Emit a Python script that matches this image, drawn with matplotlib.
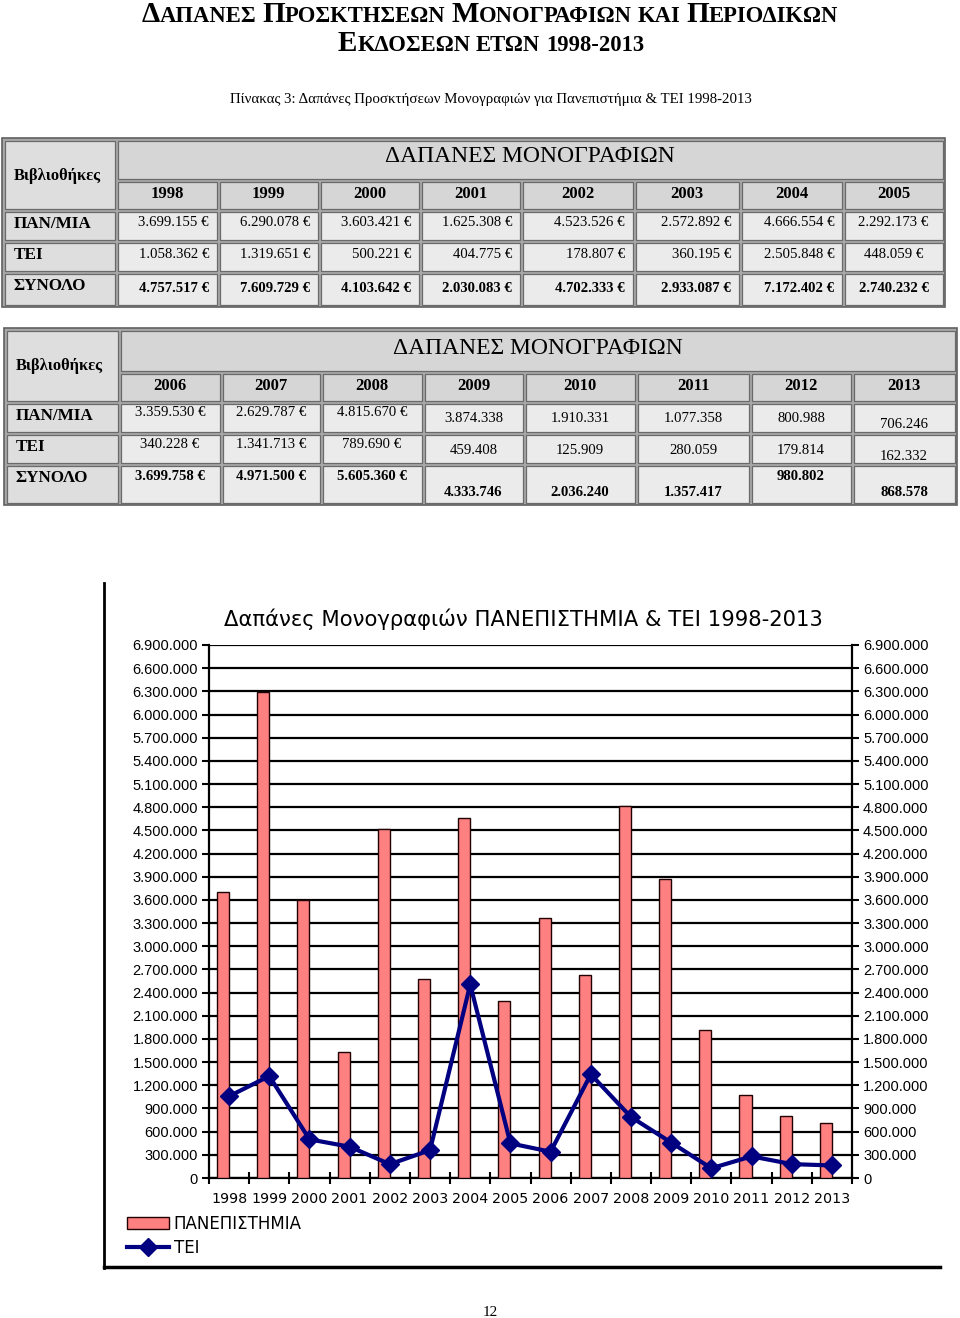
import matplotlib
matplotlib.use('Agg')
import matplotlib.pyplot as plt
from matplotlib.patches import Rectangle
from matplotlib.lines import Line2D
from matplotlib.ticker import FuncFormatter
import numpy as np

# ---------------- data ----------------
years = [1998, 1999, 2000, 2001, 2002, 2003, 2004, 2005,
         2006, 2007, 2008, 2009, 2010, 2011, 2012, 2013]
pan = [3699155, 6290078, 3603421, 1625308, 4523526, 2572892, 4666554, 2292173,
       3359530, 2629787, 4815670, 3874338, 1910331, 1077358, 800988, 706246]
tei = [1058362, 1319651, 500221, 404775, 178807, 360195, 2505848, 448059,
       340228, 1341713, 789690, 459408, 125909, 280059, 179814, 162332]
totals = [4757517, 7609729, 4103642, 2030083, 4702333, 2933087, 7172402, 2740232,
          3699758, 4971500, 5605360, 4333746, 2036240, 1357417, 980802, 868578]
row_labels = ['ΠΑΝ/ΜΙΑ', 'ΤΕΙ', 'ΣΥΝΟΛΟ']
corner_label = 'Βιβλιοθήκες'
table_header = 'ΔΑΠΑΝΕΣ ΜΟΝΟΓΡΑΦΙΩΝ'
series_names = ['ΠΑΝΕΠΙΣΤΗΜΙΑ', 'ΤΕΙ']
chart_title = 'Δαπάνες Μονογραφιών ΠΑΝΕΠΙΣΤΗΜΙΑ & ΤΕΙ 1998-2013'
subtitle = 'Πίνακας 3: Δαπάνες Προσκτήσεων Μονογραφιών για Πανεπιστήμια & ΤΕΙ 1998-2013'
euro_until = 2008

SERIF = 'Liberation Serif'
SANS = 'Liberation Sans'
WIDE = 'DejaVu Sans'


def fmt(v):
    return f"{v:,}".replace(',', '.')


W, H = 960, 1318
fig = plt.figure(figsize=(W / 100, H / 100), dpi=100)
page = fig.add_axes([0, 0, 1, 1])
page.set_xlim(0, W)
page.set_ylim(H, 0)
page.axis('off')
renderer = fig.canvas.get_renderer()

# ---------------- title (small caps) ----------------
BIG, SMALL = 21, 16.3


def smallcaps_line(words, xc, yb):
    items = []
    for wi, word in enumerate(words):
        for s, big in word:
            t = page.text(0, yb, s, fontsize=BIG if big else SMALL, fontweight='bold',
                          family=SERIF, va='baseline', ha='left')
            w = t.get_window_extent(renderer).width
            items.append((t, w))
        if wi < len(words) - 1:
            items.append((None, SMALL * 100 / 72 * 0.25))
    total = sum(w for _, w in items)
    x = xc - total / 2
    for t, w in items:
        if t is not None:
            t.set_x(x)
        x += w


def sc_word(word, first_big=True):
    if first_big:
        return [(word[0], True), (word[1:], False)]
    return [(word, False)]


line1 = [sc_word('ΔΑΠΑΝΕΣ'), sc_word('ΠΡΟΣΚΤΗΣΕΩΝ'), sc_word('ΜΟΝΟΓΡΑΦΙΩΝ'),
         sc_word('ΚΑΙ', False), sc_word('ΠΕΡΙΟΔΙΚΩΝ')]
line2 = [sc_word('ΕΚΔΟΣΕΩΝ'), sc_word('ΕΤΩΝ', False), sc_word('1998-2013', False)]
smallcaps_line(line1, 490, 22)
smallcaps_line(line2, 491, 51)

page.text(491, 99, subtitle, family=SERIF, fontsize=10.75, ha='center', va='center')

# ---------------- tables ----------------
HDR = '#d6d6d6'
DATA = '#ebebeb'
LAB = '#dedede'


def cell(x0, x1, y0, y1, face):
    page.add_patch(Rectangle((x0 + 1.5, y0 + 1.5), x1 - x0 - 3, y1 - y0 - 3,
                             facecolor=face, edgecolor='#6a6a6a', lw=0.9))


def draw_table(xe, ye, idx, text_mode):
    page.add_patch(Rectangle((xe[0] - 1, ye[0] - 1), xe[-1] - xe[0] + 2, ye[-1] - ye[0] + 2,
                             facecolor='#a8a8a8', edgecolor='#606060', lw=1.2))
    cell(xe[0], xe[1], ye[0], ye[2], LAB)
    page.text(xe[0] + 11, (ye[0] + ye[2]) / 2 + 1, corner_label, family=SERIF,
              fontweight='bold', fontsize=11.8, ha='left', va='center')
    cell(xe[1], xe[-1], ye[0], ye[1], HDR)
    page.text((xe[1] + xe[-1]) / 2, (ye[0] + ye[1]) / 2 - 2.5, table_header, family=SERIF,
              fontsize=17, ha='center', va='center')
    for r, lab in enumerate(row_labels):
        cell(xe[0], xe[1], ye[r + 2], ye[r + 3], LAB)
        page.text(xe[0] + 11, ye[r + 2] + 14, lab, family=SERIF, fontweight='bold',
                  fontsize=12.3, ha='left', va='center')
    for j, k in enumerate(idx):
        x0, x1 = xe[j + 1], xe[j + 2]
        cell(x0, x1, ye[1], ye[2], HDR)
        page.text((x0 + x1) / 2, (ye[1] + ye[2]) / 2 - 1, str(years[k]), family=SERIF,
                  fontweight='bold', fontsize=12, ha='center', va='center')
        vals = [pan[k], tei[k], totals[k]]
        for r in range(3):
            cell(x0, x1, ye[r + 2], ye[r + 3], DATA)
            s = fmt(vals[r]) + (' €' if years[k] <= euro_until else '')
            ha, xo, offs = text_mode(j, x0, x1)
            page.text(xo, ye[r + 2] + offs[r], s, family=SERIF, fontsize=10.6,
                      fontweight='bold' if r == 2 else 'normal', ha=ha, va='center')


def mode1(j, x0, x1):
    if j < 7:
        return 'right', x1 - 9, [12, 13, 16]
    return 'center', (x0 + x1) / 2, [12, 13, 16]


def mode2(j, x0, x1):
    c = (x0 + x1) / 2
    if j < 3:
        return 'center', c, [11, 12, 12]
    if j < 6:
        return 'center', c, [17, 17, 29]
    if j == 6:
        return 'center', c, [16, 17, 12]
    return 'center', c, [22, 23, 29]


draw_table([3, 116, 218, 319, 420, 521, 634, 740, 843, 944],
           [139, 180, 210, 241, 272, 306], range(0, 8), mode1)
draw_table([5, 119, 221, 321, 423, 524, 636, 750, 852, 956],
           [329, 372, 402, 433, 464, 504], range(8, 16), mode2)

# ---------------- chart frame ----------------
page.add_line(Line2D([104, 104], [583, 1268], color='black', lw=2))
page.add_line(Line2D([104, 940], [1267, 1267], color='black', lw=2.5))
page.text(523, 619, chart_title, family=WIDE, fontsize=15.2, ha='center', va='center')
page.text(490, 1312, '12', family=SERIF, fontsize=11, ha='center', va='center')

# ---------------- chart ----------------
L, R, T, B = 209, 852, 645, 1178
ax = fig.add_axes([L / W, (H - B) / H, (R - L) / W, (B - T) / H])
x = np.arange(len(years))
bars = ax.bar(x, pan, width=-0.3, align='edge', color='#FF8080', edgecolor='#200000',
              lw=1.0, zorder=3, label=series_names[0])
line, = ax.plot(x, tei, color='#000080', lw=3, marker='D', ms=9, zorder=4,
                label=series_names[1])
ymax = 6900000
yt = np.arange(0, ymax + 1, 300000)
yfmt = FuncFormatter(lambda v, p: fmt(int(v)))
ax.set_ylim(0, ymax)
ax.set_xlim(-0.5, len(years) - 0.5)
ax.set_yticks(yt)
ax.yaxis.set_major_formatter(yfmt)
ax.yaxis.grid(True, color='black', lw=1.6)
ax.set_axisbelow(True)
ax.set_xticks(np.arange(-0.5, len(years), 1))
ax.set_xticklabels([])
ax.set_xticks(x, minor=True)
ax.set_xticklabels([str(y) for y in years], minor=True)
ax.tick_params(axis='x', which='major', direction='inout', length=9, width=1.5)
ax.tick_params(axis='x', which='minor', length=0, pad=10, labelsize=10.3)
ax.tick_params(axis='y', direction='out', length=5, width=1.5, labelsize=10.5, pad=3)
for lab in ax.get_xticklabels(minor=True):
    lab.set_family(WIDE)
for lab in ax.get_yticklabels():
    lab.set_family(SANS)
for sp in ax.spines.values():
    sp.set_color('black')
    sp.set_linewidth(1.6)
ax.spines['top'].set_visible(False)

ax2 = ax.twinx()
ax2.set_ylim(0, ymax)
ax2.set_yticks(yt)
ax2.yaxis.set_major_formatter(yfmt)
ax2.tick_params(axis='y', direction='out', length=5, width=1.5, labelsize=10.5, pad=3)
for lab in ax2.get_yticklabels():
    lab.set_family(SANS)
for sp in ax2.spines.values():
    sp.set_visible(False)

leg = fig.legend(handles=[bars, line], labels=series_names, loc='upper left',
                 bbox_to_anchor=(127 / W, (H - 1215) / H), frameon=False,
                 prop={'family': WIDE, 'size': 12}, handlelength=2.5,
                 handletextpad=0.3, labelspacing=0.35, borderpad=0, borderaxespad=0)

fig.savefig('out.png', dpi=100)
